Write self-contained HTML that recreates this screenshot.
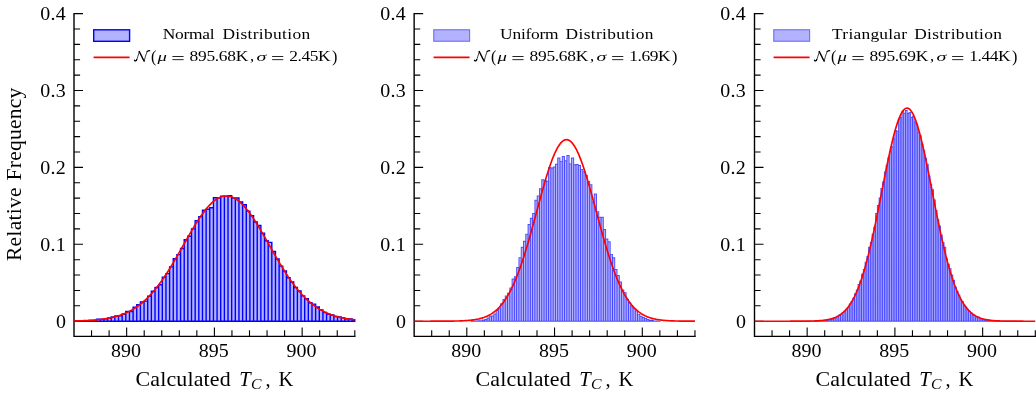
<!DOCTYPE html>
<html><head><meta charset="utf-8"><title>Tc distributions</title>
<style>html,body{margin:0;padding:0;background:#fff;}body{width:1036px;height:397px;overflow:hidden;}svg{display:block;will-change:transform;}text{font-family:"Liberation Serif", serif;fill:#000;}</style></head><body>
<svg width="1036" height="397" viewBox="0 0 1036 397">
<rect x="0" y="0" width="1036" height="397" fill="#ffffff"/>
<g>
<clipPath id="cp0"><rect x="74" y="11.6" width="281.4" height="324.8"/></clipPath>
<path d="M74 13.6V336.4H354.8" fill="none" stroke="#000" stroke-width="1.4" stroke-linecap="square"/>
<path d="M74 321.2H83M74 305.82H80.1M74 290.44H80.1M74 275.06H80.1M74 259.68H80.1M74 244.3H83M74 228.92H80.1M74 213.54H80.1M74 198.16H80.1M74 182.78H80.1M74 167.4H83M74 152.02H80.1M74 136.64H80.1M74 121.26H80.1M74 105.88H80.1M74 90.5H83M74 75.12H80.1M74 59.74H80.1M74 44.36H80.1M74 28.98H80.1M74 13.6H83M91.55 336.4V330.3M109.1 336.4V330.3M126.65 336.4V327.4M144.2 336.4V330.3M161.75 336.4V330.3M179.3 336.4V330.3M196.85 336.4V330.3M214.4 336.4V327.4M231.95 336.4V330.3M249.5 336.4V330.3M267.05 336.4V330.3M284.6 336.4V330.3M302.15 336.4V327.4M319.7 336.4V330.3M337.25 336.4V330.3M354.8 336.4V330.3" fill="none" stroke="#000" stroke-width="1.1"/>
<g clip-path="url(#cp0)">
<path d="M71.05 321.2V320.95H74.7V321.2ZM74.7 321.2V320.89H78.35V321.2ZM78.35 321.2V320.92H82V321.2ZM82 321.2V320.77H85.65V321.2ZM85.65 321.2V320.68H89.3V321.2ZM89.3 321.2V320.34H92.95V321.2ZM92.95 321.2V320.46H96.6V321.2ZM96.6 321.2V319.29H100.25V321.2ZM100.25 321.2V319.23H103.91V321.2ZM103.91 321.2V318.83H107.56V321.2ZM107.56 321.2V318H111.21V321.2ZM111.21 321.2V316.98H114.86V321.2ZM114.86 321.2V315.84H118.51V321.2ZM118.51 321.2V315.75H122.16V321.2ZM122.16 321.2V314.05H125.81V321.2ZM125.81 321.2V311.34H129.46V321.2ZM129.46 321.2V311.56H133.11V321.2ZM133.11 321.2V307.18H136.76V321.2ZM136.76 321.2V304.62H140.41V321.2ZM140.41 321.2V301.85H144.06V321.2ZM144.06 321.2V301.08H147.71V321.2ZM147.71 321.2V296.31H151.36V321.2ZM151.36 321.2V291.19H155.01V321.2ZM155.01 321.2V287.46H158.66V321.2ZM158.66 321.2V284.75H162.31V321.2ZM162.31 321.2V277.08H165.96V321.2ZM165.96 321.2V273.6H169.61V321.2ZM169.61 321.2V266.91H173.26V321.2ZM173.26 321.2V258.78H176.91V321.2ZM176.91 321.2V254.62H180.56V321.2ZM180.56 321.2V248.52H184.21V321.2ZM184.21 321.2V239.77H187.86V321.2ZM187.86 321.2V236.32H191.51V321.2ZM191.51 321.2V228.83H195.17V321.2ZM195.17 321.2V220.61H198.82V321.2ZM198.82 321.2V216.6H202.47V321.2ZM202.47 321.2V210.29H206.12V321.2ZM206.12 321.2V209.24H209.77V321.2ZM209.77 321.2V207.7H213.42V321.2ZM213.42 321.2V197.78H217.07V321.2ZM217.07 321.2V198.09H220.72V321.2ZM220.72 321.2V196.21H224.37V321.2ZM224.37 321.2V196.36H228.02V321.2ZM228.02 321.2V195.62H231.67V321.2ZM231.67 321.2V198.15H235.32V321.2ZM235.32 321.2V198.06H238.97V321.2ZM238.97 321.2V201.97H242.62V321.2ZM242.62 321.2V204.77H246.27V321.2ZM246.27 321.2V211.15H249.92V321.2ZM249.92 321.2V215.62H253.57V321.2ZM253.57 321.2V221.99H257.22V321.2ZM257.22 321.2V225.57H260.87V321.2ZM260.87 321.2V233.12H264.52V321.2ZM264.52 321.2V240.73H268.17V321.2ZM268.17 321.2V242.42H271.82V321.2ZM271.82 321.2V251.51H275.47V321.2ZM275.47 321.2V259H279.12V321.2ZM279.12 321.2V266.14H282.77V321.2ZM282.77 321.2V271.04H286.43V321.2ZM286.43 321.2V277.82H290.08V321.2ZM290.08 321.2V282.04H293.73V321.2ZM293.73 321.2V287.46H297.38V321.2ZM297.38 321.2V291.01H301.03V321.2ZM301.03 321.2V295.84H304.68V321.2ZM304.68 321.2V298.68H308.33V321.2ZM308.33 321.2V302.68H311.98V321.2ZM311.98 321.2V304.16H315.63V321.2ZM315.63 321.2V307.06H319.28V321.2ZM319.28 321.2V309.86H322.93V321.2ZM322.93 321.2V312.45H326.58V321.2ZM326.58 321.2V314.18H330.23V321.2ZM330.23 321.2V315.07H333.88V321.2ZM333.88 321.2V316.52H337.53V321.2ZM337.53 321.2V316.92H341.18V321.2ZM341.18 321.2V317.87H344.83V321.2ZM344.83 321.2V318.8H348.48V321.2ZM348.48 321.2V319.07H352.13V321.2ZM352.13 321.2V319.75H355.78V321.2Z" fill="#0000ff" fill-opacity="0.3" stroke="none"/>
<path d="M71.05 321.2V320.95H74.7V321.2ZM74.7 321.2V320.89H78.35V321.2ZM78.35 321.2V320.92H82V321.2ZM82 321.2V320.77H85.65V321.2ZM85.65 321.2V320.68H89.3V321.2ZM89.3 321.2V320.34H92.95V321.2ZM92.95 321.2V320.46H96.6V321.2ZM96.6 321.2V319.29H100.25V321.2ZM100.25 321.2V319.23H103.91V321.2ZM103.91 321.2V318.83H107.56V321.2ZM107.56 321.2V318H111.21V321.2ZM111.21 321.2V316.98H114.86V321.2ZM114.86 321.2V315.84H118.51V321.2ZM118.51 321.2V315.75H122.16V321.2ZM122.16 321.2V314.05H125.81V321.2ZM125.81 321.2V311.34H129.46V321.2ZM129.46 321.2V311.56H133.11V321.2ZM133.11 321.2V307.18H136.76V321.2ZM136.76 321.2V304.62H140.41V321.2ZM140.41 321.2V301.85H144.06V321.2ZM144.06 321.2V301.08H147.71V321.2ZM147.71 321.2V296.31H151.36V321.2ZM151.36 321.2V291.19H155.01V321.2ZM155.01 321.2V287.46H158.66V321.2ZM158.66 321.2V284.75H162.31V321.2ZM162.31 321.2V277.08H165.96V321.2ZM165.96 321.2V273.6H169.61V321.2ZM169.61 321.2V266.91H173.26V321.2ZM173.26 321.2V258.78H176.91V321.2ZM176.91 321.2V254.62H180.56V321.2ZM180.56 321.2V248.52H184.21V321.2ZM184.21 321.2V239.77H187.86V321.2ZM187.86 321.2V236.32H191.51V321.2ZM191.51 321.2V228.83H195.17V321.2ZM195.17 321.2V220.61H198.82V321.2ZM198.82 321.2V216.6H202.47V321.2ZM202.47 321.2V210.29H206.12V321.2ZM206.12 321.2V209.24H209.77V321.2ZM209.77 321.2V207.7H213.42V321.2ZM213.42 321.2V197.78H217.07V321.2ZM217.07 321.2V198.09H220.72V321.2ZM220.72 321.2V196.21H224.37V321.2ZM224.37 321.2V196.36H228.02V321.2ZM228.02 321.2V195.62H231.67V321.2ZM231.67 321.2V198.15H235.32V321.2ZM235.32 321.2V198.06H238.97V321.2ZM238.97 321.2V201.97H242.62V321.2ZM242.62 321.2V204.77H246.27V321.2ZM246.27 321.2V211.15H249.92V321.2ZM249.92 321.2V215.62H253.57V321.2ZM253.57 321.2V221.99H257.22V321.2ZM257.22 321.2V225.57H260.87V321.2ZM260.87 321.2V233.12H264.52V321.2ZM264.52 321.2V240.73H268.17V321.2ZM268.17 321.2V242.42H271.82V321.2ZM271.82 321.2V251.51H275.47V321.2ZM275.47 321.2V259H279.12V321.2ZM279.12 321.2V266.14H282.77V321.2ZM282.77 321.2V271.04H286.43V321.2ZM286.43 321.2V277.82H290.08V321.2ZM290.08 321.2V282.04H293.73V321.2ZM293.73 321.2V287.46H297.38V321.2ZM297.38 321.2V291.01H301.03V321.2ZM301.03 321.2V295.84H304.68V321.2ZM304.68 321.2V298.68H308.33V321.2ZM308.33 321.2V302.68H311.98V321.2ZM311.98 321.2V304.16H315.63V321.2ZM315.63 321.2V307.06H319.28V321.2ZM319.28 321.2V309.86H322.93V321.2ZM322.93 321.2V312.45H326.58V321.2ZM326.58 321.2V314.18H330.23V321.2ZM330.23 321.2V315.07H333.88V321.2ZM333.88 321.2V316.52H337.53V321.2ZM337.53 321.2V316.92H341.18V321.2ZM341.18 321.2V317.87H344.83V321.2ZM344.83 321.2V318.8H348.48V321.2ZM348.48 321.2V319.07H352.13V321.2ZM352.13 321.2V319.75H355.78V321.2Z" fill="none" stroke="#0000ff" stroke-opacity="1.0" stroke-width="1.4" stroke-linejoin="miter"/>
<polyline points="74,320.96 74.88,320.95 75.76,320.93 76.63,320.91 77.51,320.89 78.39,320.86 79.26,320.84 80.14,320.81 81.02,320.79 81.9,320.76 82.78,320.72 83.65,320.69 84.53,320.66 85.41,320.62 86.29,320.58 87.16,320.54 88.04,320.49 88.92,320.44 89.79,320.39 90.67,320.34 91.55,320.28 92.43,320.22 93.31,320.15 94.18,320.09 95.06,320.02 95.94,319.94 96.81,319.86 97.69,319.77 98.57,319.69 99.45,319.59 100.33,319.49 101.2,319.39 102.08,319.28 102.96,319.16 103.84,319.04 104.71,318.91 105.59,318.77 106.47,318.63 107.34,318.48 108.22,318.32 109.1,318.16 109.98,317.98 110.86,317.8 111.73,317.61 112.61,317.41 113.49,317.2 114.36,316.98 115.24,316.75 116.12,316.51 117,316.26 117.88,316 118.75,315.73 119.63,315.44 120.51,315.14 121.39,314.83 122.26,314.51 123.14,314.17 124.02,313.82 124.89,313.45 125.77,313.07 126.65,312.68 127.53,312.27 128.41,311.84 129.28,311.4 130.16,310.94 131.04,310.46 131.91,309.96 132.79,309.45 133.67,308.92 134.55,308.37 135.43,307.8 136.3,307.22 137.18,306.61 138.06,305.98 138.94,305.33 139.81,304.66 140.69,303.98 141.57,303.26 142.44,302.53 143.32,301.78 144.2,301 145.08,300.2 145.96,299.38 146.83,298.54 147.71,297.67 148.59,296.78 149.46,295.87 150.34,294.93 151.22,293.97 152.1,292.99 152.98,291.99 153.85,290.96 154.73,289.91 155.61,288.83 156.49,287.73 157.36,286.61 158.24,285.47 159.12,284.3 159.99,283.11 160.87,281.9 161.75,280.67 162.63,279.42 163.51,278.15 164.38,276.85 165.26,275.54 166.14,274.2 167.01,272.85 167.89,271.48 168.77,270.09 169.65,268.69 170.53,267.27 171.4,265.83 172.28,264.38 173.16,262.92 174.04,261.44 174.91,259.95 175.79,258.45 176.67,256.94 177.54,255.42 178.42,253.89 179.3,252.36 180.18,250.82 181.06,249.28 181.93,247.73 182.81,246.18 183.69,244.63 184.56,243.08 185.44,241.53 186.32,239.99 187.2,238.45 188.07,236.92 188.95,235.39 189.83,233.87 190.71,232.36 191.59,230.87 192.46,229.38 193.34,227.92 194.22,226.46 195.09,225.03 195.97,223.61 196.85,222.22 197.73,220.84 198.61,219.49 199.48,218.16 200.36,216.86 201.24,215.59 202.11,214.35 202.99,213.14 203.87,211.96 204.75,210.81 205.62,209.69 206.5,208.62 207.38,207.57 208.26,206.57 209.14,205.61 210.01,204.69 210.89,203.8 211.77,202.96 212.64,202.17 213.52,201.42 214.4,200.71 215.28,200.05 216.16,199.44 217.03,198.88 217.91,198.36 218.79,197.89 219.66,197.48 220.54,197.11 221.42,196.8 222.3,196.53 223.18,196.32 224.05,196.16 224.93,196.05 225.81,195.99 226.69,195.99 227.56,196.03 228.44,196.13 229.32,196.28 230.19,196.48 231.07,196.74 231.95,197.04 232.83,197.4 233.71,197.81 234.58,198.26 235.46,198.77 236.34,199.32 237.21,199.93 238.09,200.58 238.97,201.27 239.85,202.02 240.72,202.8 241.6,203.63 242.48,204.51 243.36,205.42 244.24,206.38 245.11,207.37 245.99,208.4 246.87,209.48 247.74,210.58 248.62,211.72 249.5,212.9 250.38,214.1 251.26,215.34 252.13,216.61 253.01,217.9 253.89,219.22 254.76,220.57 255.64,221.94 256.52,223.33 257.4,224.74 258.27,226.17 259.15,227.62 260.03,229.09 260.91,230.57 261.79,232.06 262.66,233.57 263.54,235.08 264.42,236.61 265.29,238.14 266.17,239.68 267.05,241.22 267.93,242.77 268.81,244.32 269.68,245.87 270.56,247.42 271.44,248.97 272.31,250.51 273.19,252.05 274.07,253.59 274.95,255.12 275.83,256.64 276.7,258.15 277.58,259.65 278.46,261.14 279.34,262.62 280.21,264.09 281.09,265.54 281.97,266.98 282.84,268.41 283.72,269.81 284.6,271.21 285.48,272.58 286.36,273.93 287.23,275.27 288.11,276.59 288.99,277.89 289.86,279.17 290.74,280.42 291.62,281.66 292.5,282.87 293.38,284.07 294.25,285.24 295.13,286.38 296.01,287.51 296.89,288.61 297.76,289.69 298.64,290.75 299.52,291.78 300.39,292.79 301.27,293.78 302.15,294.74 303.03,295.68 303.91,296.6 304.78,297.5 305.66,298.37 306.54,299.21 307.41,300.04 308.29,300.84 309.17,301.62 310.05,302.38 310.93,303.12 311.8,303.83 312.68,304.53 313.56,305.2 314.44,305.85 315.31,306.48 316.19,307.1 317.07,307.69 317.94,308.26 318.82,308.81 319.7,309.35 320.58,309.86 321.46,310.36 322.33,310.84 323.21,311.31 324.09,311.75 324.96,312.18 325.84,312.6 326.72,313 327.6,313.38 328.48,313.75 329.35,314.1 330.23,314.44 331.11,314.77 331.99,315.08 332.86,315.38 333.74,315.67 334.62,315.95 335.49,316.21 336.37,316.46 337.25,316.71 338.13,316.94 339.01,317.16 339.88,317.37 340.76,317.57 341.64,317.76 342.51,317.95 343.39,318.12 344.27,318.29 345.15,318.45 346.03,318.6 346.9,318.74 347.78,318.88 348.66,319.01 349.54,319.14 350.41,319.25 351.29,319.36 352.17,319.47 353.04,319.57 353.92,319.67 354.8,319.76" fill="none" stroke="#ff0000" stroke-width="1.65" stroke-linejoin="round"/>
</g>
<text transform="translate(56.1 327.7) scale(1.05 1)" font-size="19" textLength="9.14" lengthAdjust="spacing">0</text>
<text transform="translate(40.3 250.8) scale(1.05 1)" font-size="19" textLength="24.19" lengthAdjust="spacing">0.1</text>
<text transform="translate(40.3 173.9) scale(1.05 1)" font-size="19" textLength="24.19" lengthAdjust="spacing">0.2</text>
<text transform="translate(40.3 97) scale(1.05 1)" font-size="19" textLength="24.19" lengthAdjust="spacing">0.3</text>
<text transform="translate(40.3 20.1) scale(1.05 1)" font-size="19" textLength="24.19" lengthAdjust="spacing">0.4</text>
<text transform="translate(111.05 356.8) scale(1.05 1)" font-size="19" textLength="28.57" lengthAdjust="spacing">890</text>
<text transform="translate(198.8 356.8) scale(1.05 1)" font-size="19" textLength="28.57" lengthAdjust="spacing">895</text>
<text transform="translate(286.55 356.8) scale(1.05 1)" font-size="19" textLength="28.57" lengthAdjust="spacing">900</text>
<text transform="translate(135.6 385.6) scale(1.07 1)" font-size="20.5" textLength="88.79" lengthAdjust="spacing">Calculated</text>
<text transform="translate(239.2 385.6) scale(1.0 1)" font-size="20.5" textLength="12.5" lengthAdjust="spacing"><tspan font-style="italic">T</tspan></text>
<text transform="translate(250.9 388.8) scale(1.05 1)" font-size="15" textLength="10.48" lengthAdjust="spacing"><tspan font-style="italic">C</tspan></text>
<text transform="translate(265.6 385.6) scale(1.0 1)" font-size="20.5">,</text>
<text transform="translate(278.4 385.6) scale(1.0 1)" font-size="20.5" textLength="15" lengthAdjust="spacing">K</text>
<rect x="93.7" y="29.8" width="35.9" height="11.5" fill="#0000ff" fill-opacity="0.3" stroke="#0000ff" stroke-width="1.4"/>
<path d="M93.6 57.4H129.6" stroke="#ff0000" stroke-width="1.6" fill="none"/>
<text transform="translate(162.7 38.9) scale(1.16 1)" font-size="15" textLength="44.83" lengthAdjust="spacing">Normal</text>
<text transform="translate(222.4 38.9) scale(1.16 1)" font-size="15" textLength="75.69" lengthAdjust="spacing">Distribution</text>
<g transform="translate(133.9 61.2)" fill="none" stroke="#000" stroke-linecap="round" stroke-linejoin="round"><path d="M0.6 -0.9C1.2 0.1 2.3 0 2.9 -1.6" stroke-width="1.3"/><path d="M2.6 -1.2C3.6 -3.2 4.6 -6.6 5.3 -9.5" stroke-width="0.75"/><path d="M5.4 -9.6C6.8 -6.8 8.6 -3 10.2 -0.2" stroke-width="1.5"/><path d="M10.3 -0.1C11 -3.2 12 -7 13.2 -9.6" stroke-width="0.75"/><path d="M13.2 -9.8C13.8 -10.2 14.8 -10.5 15.8 -10.5" stroke-width="1.2"/></g>
<text transform="translate(151 62.1) scale(0.95 1)" font-size="17">(</text>
<text transform="translate(157.5 61.2) scale(1.5 1)" font-size="12.5" textLength="6" lengthAdjust="spacing"><tspan font-style="italic">μ</tspan></text>
<path d="M172.4 56.5h11.2M172.4 59.65h11.2" stroke="#000" stroke-width="0.85" fill="none"/>
<text transform="translate(189.6 61.2) scale(1.16 1)" font-size="15" textLength="50.52" lengthAdjust="spacing">895.68K</text>
<text transform="translate(250 61.2) scale(1.1 1)" font-size="15">,</text>
<text transform="translate(256.5 61.2) scale(1.6 1)" font-size="12.5" textLength="5.62" lengthAdjust="spacing"><tspan font-style="italic">σ</tspan></text>
<path d="M272.1 56.5h11.2M272.1 59.65h11.2" stroke="#000" stroke-width="0.85" fill="none"/>
<text transform="translate(289.3 61.2) scale(1.16 1)" font-size="15" textLength="35.52" lengthAdjust="spacing">2.45K</text>
<text transform="translate(331.9 62.1) scale(0.95 1)" font-size="17">)</text>
</g>
<g>
<clipPath id="cp1"><rect x="414.15" y="11.6" width="281.4" height="324.8"/></clipPath>
<path d="M414.15 13.6V336.4H694.95" fill="none" stroke="#000" stroke-width="1.4" stroke-linecap="square"/>
<path d="M414.15 321.2H423.15M414.15 305.82H420.25M414.15 290.44H420.25M414.15 275.06H420.25M414.15 259.68H420.25M414.15 244.3H423.15M414.15 228.92H420.25M414.15 213.54H420.25M414.15 198.16H420.25M414.15 182.78H420.25M414.15 167.4H423.15M414.15 152.02H420.25M414.15 136.64H420.25M414.15 121.26H420.25M414.15 105.88H420.25M414.15 90.5H423.15M414.15 75.12H420.25M414.15 59.74H420.25M414.15 44.36H420.25M414.15 28.98H420.25M414.15 13.6H423.15M431.7 336.4V330.3M449.25 336.4V330.3M466.8 336.4V327.4M484.35 336.4V330.3M501.9 336.4V330.3M519.45 336.4V330.3M537 336.4V330.3M554.55 336.4V327.4M572.1 336.4V330.3M589.65 336.4V330.3M607.2 336.4V330.3M624.75 336.4V330.3M642.3 336.4V327.4M659.85 336.4V330.3M677.4 336.4V330.3M694.95 336.4V330.3" fill="none" stroke="#000" stroke-width="1.1"/>
<g clip-path="url(#cp1)">
<path d="M471.01 321.2V321.07H473.29V321.2ZM473.29 321.2V320.94H475.57V321.2ZM475.57 321.2V320.94H477.86V321.2ZM477.86 321.2V320.61H480.14V321.2ZM480.14 321.2V320.67H482.42V321.2ZM482.42 321.2V320.02H484.7V321.2ZM484.7 321.2V319.56H486.98V321.2ZM486.98 321.2V318.05H489.26V321.2ZM489.26 321.2V316.07H491.55V321.2ZM491.55 321.2V316.01H493.83V321.2ZM493.83 321.2V314.04H496.11V321.2ZM496.11 321.2V310.55H498.39V321.2ZM498.39 321.2V308.78H500.67V321.2ZM500.67 321.2V303.65H502.95V321.2ZM502.95 321.2V299.58H505.23V321.2ZM505.23 321.2V295.9H507.52V321.2ZM507.52 321.2V293.2H509.8V321.2ZM509.8 321.2V287.88H512.08V321.2ZM512.08 321.2V279H514.36V321.2ZM514.36 321.2V276.7H516.64V321.2ZM516.64 321.2V267.44H518.92V321.2ZM518.92 321.2V257.64H521.2V321.2ZM521.2 321.2V247.32H523.49V321.2ZM523.49 321.2V241.34H525.77V321.2ZM525.77 321.2V234.11H528.05V321.2ZM528.05 321.2V224.52H530.33V321.2ZM530.33 321.2V218.21H532.61V321.2ZM532.61 321.2V213.47H534.89V321.2ZM534.89 321.2V200.2H537.18V321.2ZM537.18 321.2V195.86H539.46V321.2ZM539.46 321.2V188.83H541.74V321.2ZM541.74 321.2V179.82H544.02V321.2ZM544.02 321.2V180.48H546.3V321.2ZM546.3 321.2V181.27H548.58V321.2ZM548.58 321.2V167.53H550.86V321.2ZM550.86 321.2V167.99H553.15V321.2ZM553.15 321.2V167.07H555.43V321.2ZM555.43 321.2V164.25H557.71V321.2ZM557.71 321.2V157.94H559.99V321.2ZM559.99 321.2V161.35H562.27V321.2ZM562.27 321.2V156.42H564.55V321.2ZM564.55 321.2V160.83H566.83V321.2ZM566.83 321.2V155.57H569.12V321.2ZM569.12 321.2V163.85H571.4V321.2ZM571.4 321.2V158.07H573.68V321.2ZM573.68 321.2V164.71H575.96V321.2ZM575.96 321.2V164.44H578.24V321.2ZM578.24 321.2V165.43H580.52V321.2ZM580.52 321.2V169.37H582.81V321.2ZM582.81 321.2V171.8H585.09V321.2ZM585.09 321.2V175.48H587.37V321.2ZM587.37 321.2V181.4H589.65V321.2ZM589.65 321.2V184.75H591.93V321.2ZM591.93 321.2V202.04H594.21V321.2ZM594.21 321.2V194.02H596.49V321.2ZM596.49 321.2V211.77H598.78V321.2ZM598.78 321.2V217.15H601.06V321.2ZM601.06 321.2V217.22H603.34V321.2ZM603.34 321.2V229.58H605.62V321.2ZM605.62 321.2V239.04H607.9V321.2ZM607.9 321.2V241.8H610.18V321.2ZM610.18 321.2V254.36H612.46V321.2ZM612.46 321.2V257.71H614.75V321.2ZM614.75 321.2V269.54H617.03V321.2ZM617.03 321.2V275.52H619.31V321.2ZM619.31 321.2V282.09H621.59V321.2ZM621.59 321.2V289.91H623.87V321.2ZM623.87 321.2V292.61H626.15V321.2ZM626.15 321.2V299.18H628.44V321.2ZM628.44 321.2V302.8H630.72V321.2ZM630.72 321.2V306.67H633V321.2ZM633 321.2V308.58H635.28V321.2ZM635.28 321.2V310.88H637.56V321.2ZM637.56 321.2V314.36H639.84V321.2ZM639.84 321.2V316.27H642.12V321.2ZM642.12 321.2V317.45H644.41V321.2ZM644.41 321.2V318.51H646.69V321.2ZM646.69 321.2V319.56H648.97V321.2ZM648.97 321.2V320.28H651.25V321.2ZM651.25 321.2V320.28H653.53V321.2ZM653.53 321.2V321H655.81V321.2ZM655.81 321.2V320.94H658.09V321.2ZM658.09 321.2V321.13H660.38V321.2Z" fill="#0000ff" fill-opacity="0.3" stroke="none"/>
<path d="M470.54 321.68V320.59H471.49V321.68ZM470.54 320.59H473.77V321.54H470.54ZM472.82 321.68V320.46H473.77V321.68ZM472.82 320.46H476.05V321.41H472.82ZM475.1 321.68V320.46H476.05V321.68ZM475.1 320.46H478.33V321.41H475.1ZM477.38 321.68V320.13H478.33V321.68ZM477.38 320.13H480.61V321.08H477.38ZM479.66 321.68V320.13H480.61V321.68ZM479.66 320.2H482.89V321.15H479.66ZM481.94 321.68V319.54H482.89V321.68ZM481.94 319.54H485.18V320.49H481.94ZM484.23 321.68V319.08H485.18V321.68ZM484.23 319.08H487.46V320.03H484.23ZM486.51 321.68V317.57H487.46V321.68ZM486.51 317.57H489.74V318.52H486.51ZM488.79 321.68V315.6H489.74V321.68ZM488.79 315.6H492.02V316.55H488.79ZM491.07 321.68V315.53H492.02V321.68ZM491.07 315.53H494.3V316.48H491.07ZM493.35 321.68V313.56H494.3V321.68ZM493.35 313.56H496.58V314.51H493.35ZM495.63 321.68V310.08H496.58V321.68ZM495.63 310.08H498.86V311.03H495.63ZM497.91 321.68V308.3H498.86V321.68ZM497.91 308.3H501.15V309.25H497.91ZM500.2 321.68V303.18H501.15V321.68ZM500.2 303.18H503.43V304.13H500.2ZM502.48 321.68V299.1H503.43V321.68ZM502.48 299.1H505.71V300.05H502.48ZM504.76 321.68V295.42H505.71V321.68ZM504.76 295.42H507.99V296.37H504.76ZM507.04 321.68V292.73H507.99V321.68ZM507.04 292.73H510.27V293.68H507.04ZM509.32 321.68V287.4H510.27V321.68ZM509.32 287.4H512.55V288.35H509.32ZM511.6 321.68V278.53H512.55V321.68ZM511.6 278.53H514.84V279.48H511.6ZM513.89 321.68V276.23H514.84V321.68ZM513.89 276.23H517.12V277.18H513.89ZM516.17 321.68V266.96H517.12V321.68ZM516.17 266.96H519.4V267.91H516.17ZM518.45 321.68V257.17H519.4V321.68ZM518.45 257.17H521.68V258.12H518.45ZM520.73 321.68V246.85H521.68V321.68ZM520.73 246.85H523.96V247.8H520.73ZM523.01 321.68V240.87H523.96V321.68ZM523.01 240.87H526.24V241.82H523.01ZM525.29 321.68V233.64H526.24V321.68ZM525.29 233.64H528.52V234.59H525.29ZM527.57 321.68V224.04H528.52V321.68ZM527.57 224.04H530.81V224.99H527.57ZM529.86 321.68V217.73H530.81V321.68ZM529.86 217.73H533.09V218.68H529.86ZM532.14 321.68V213H533.09V321.68ZM532.14 213H535.37V213.95H532.14ZM534.42 321.68V199.72H535.37V321.68ZM534.42 199.72H537.65V200.67H534.42ZM536.7 321.68V195.38H537.65V321.68ZM536.7 195.38H539.93V196.33H536.7ZM538.98 321.68V188.35H539.93V321.68ZM538.98 188.35H542.21V189.3H538.98ZM541.26 321.68V179.35H542.21V321.68ZM541.26 179.35H544.49V180.3H541.26ZM543.54 321.68V179.35H544.49V321.68ZM543.54 180H546.78V180.95H543.54ZM545.83 321.68V180H546.78V321.68ZM545.83 180.79H549.06V181.74H545.83ZM548.11 321.68V167.06H549.06V321.68ZM548.11 167.06H551.34V168.01H548.11ZM550.39 321.68V167.06H551.34V321.68ZM550.39 167.52H553.62V168.47H550.39ZM552.67 321.68V166.6H553.62V321.68ZM552.67 166.6H555.9V167.55H552.67ZM554.95 321.68V163.77H555.9V321.68ZM554.95 163.77H558.18V164.72H554.95ZM557.23 321.68V157.46H558.18V321.68ZM557.23 157.46H560.47V158.41H557.23ZM559.52 321.68V157.46H560.47V321.68ZM559.52 160.88H562.75V161.83H559.52ZM561.8 321.68V155.95H562.75V321.68ZM561.8 155.95H565.03V156.9H561.8ZM564.08 321.68V155.95H565.03V321.68ZM564.08 160.35H567.31V161.3H564.08ZM566.36 321.68V155.09H567.31V321.68ZM566.36 155.09H569.59V156.04H566.36ZM568.64 321.68V155.09H569.59V321.68ZM568.64 163.38H571.87V164.33H568.64ZM570.92 321.68V157.59H571.87V321.68ZM570.92 157.59H574.15V158.54H570.92ZM573.2 321.68V157.59H574.15V321.68ZM573.2 164.23H576.44V165.18H573.2ZM575.49 321.68V163.97H576.44V321.68ZM575.49 163.97H578.72V164.92H575.49ZM577.77 321.68V163.97H578.72V321.68ZM577.77 164.95H581V165.9H577.77ZM580.05 321.68V164.95H581V321.68ZM580.05 168.9H583.28V169.85H580.05ZM582.33 321.68V168.9H583.28V321.68ZM582.33 171.33H585.56V172.28H582.33ZM584.61 321.68V171.33H585.56V321.68ZM584.61 175.01H587.84V175.96H584.61ZM586.89 321.68V175.01H587.84V321.68ZM586.89 180.92H590.12V181.87H586.89ZM589.17 321.68V180.92H590.12V321.68ZM589.17 184.28H592.41V185.23H589.17ZM591.46 321.68V184.28H592.41V321.68ZM591.46 201.56H594.69V202.51H591.46ZM593.74 321.68V193.54H594.69V321.68ZM593.74 193.54H596.97V194.49H593.74ZM596.02 321.68V193.54H596.97V321.68ZM596.02 211.29H599.25V212.24H596.02ZM598.3 321.68V211.29H599.25V321.68ZM598.3 216.68H601.53V217.63H598.3ZM600.58 321.68V216.68H601.53V321.68ZM600.58 216.75H603.81V217.7H600.58ZM602.86 321.68V216.75H603.81V321.68ZM602.86 229.1H606.1V230.05H602.86ZM605.15 321.68V229.1H606.1V321.68ZM605.15 238.57H608.38V239.52H605.15ZM607.43 321.68V238.57H608.38V321.68ZM607.43 241.33H610.66V242.28H607.43ZM609.71 321.68V241.33H610.66V321.68ZM609.71 253.88H612.94V254.83H609.71ZM611.99 321.68V253.88H612.94V321.68ZM611.99 257.23H615.22V258.18H611.99ZM614.27 321.68V257.23H615.22V321.68ZM614.27 269.06H617.5V270.01H614.27ZM616.55 321.68V269.06H617.5V321.68ZM616.55 275.05H619.78V276H616.55ZM618.83 321.68V275.05H619.78V321.68ZM618.83 281.62H622.07V282.57H618.83ZM621.12 321.68V281.62H622.07V321.68ZM621.12 289.44H624.35V290.39H621.12ZM623.4 321.68V289.44H624.35V321.68ZM623.4 292.13H626.63V293.08H623.4ZM625.68 321.68V292.13H626.63V321.68ZM625.68 298.71H628.91V299.66H625.68ZM627.96 321.68V298.71H628.91V321.68ZM627.96 302.32H631.19V303.27H627.96ZM630.24 321.68V302.32H631.19V321.68ZM630.24 306.2H633.47V307.15H630.24ZM632.52 321.68V306.2H633.47V321.68ZM632.52 308.11H635.75V309.06H632.52ZM634.8 321.68V308.11H635.75V321.68ZM634.8 310.41H638.04V311.36H634.8ZM637.09 321.68V310.41H638.04V321.68ZM637.09 313.89H640.32V314.84H637.09ZM639.37 321.68V313.89H640.32V321.68ZM639.37 315.8H642.6V316.75H639.37ZM641.65 321.68V315.8H642.6V321.68ZM641.65 316.98H644.88V317.93H641.65ZM643.93 321.68V316.98H644.88V321.68ZM643.93 318.03H647.16V318.98H643.93ZM646.21 321.68V318.03H647.16V321.68ZM646.21 319.08H649.44V320.03H646.21ZM648.49 321.68V319.08H649.44V321.68ZM648.49 319.8H651.73V320.75H648.49ZM650.78 321.68V319.8H651.73V321.68ZM650.78 319.8H654.01V320.75H650.78ZM653.06 321.68V319.8H654.01V321.68ZM653.06 320.53H656.29V321.48H653.06ZM655.34 321.68V320.46H656.29V321.68ZM655.34 320.46H658.57V321.41H655.34ZM657.62 321.68V320.46H658.57V321.68ZM657.62 320.66H660.85V321.61H657.62ZM659.9 321.68V320.66H660.85V321.68ZM470.54 320.72H660.85V321.68H470.54Z" fill="#0000ff" fill-opacity="0.65" fill-rule="nonzero" stroke="none"/>
<polyline points="414.15,321.2 415.03,321.2 415.91,321.2 416.78,321.2 417.66,321.2 418.54,321.2 419.41,321.2 420.29,321.2 421.17,321.2 422.05,321.2 422.92,321.2 423.8,321.2 424.68,321.2 425.56,321.2 426.44,321.2 427.31,321.2 428.19,321.2 429.07,321.2 429.94,321.2 430.82,321.19 431.7,321.19 432.58,321.19 433.46,321.19 434.33,321.19 435.21,321.19 436.09,321.19 436.96,321.19 437.84,321.19 438.72,321.18 439.6,321.18 440.47,321.18 441.35,321.18 442.23,321.17 443.11,321.17 443.99,321.16 444.86,321.16 445.74,321.15 446.62,321.15 447.49,321.14 448.37,321.13 449.25,321.13 450.13,321.12 451.01,321.11 451.88,321.1 452.76,321.08 453.64,321.07 454.51,321.05 455.39,321.04 456.27,321.02 457.15,321 458.02,320.97 458.9,320.95 459.78,320.92 460.66,320.89 461.54,320.85 462.41,320.82 463.29,320.77 464.17,320.73 465.04,320.68 465.92,320.62 466.8,320.56 467.68,320.49 468.56,320.42 469.43,320.34 470.31,320.25 471.19,320.16 472.06,320.06 472.94,319.94 473.82,319.82 474.7,319.69 475.57,319.54 476.45,319.39 477.33,319.22 478.21,319.04 479.09,318.84 479.96,318.62 480.84,318.39 481.72,318.14 482.59,317.87 483.47,317.59 484.35,317.28 485.23,316.94 486.11,316.59 486.98,316.2 487.86,315.79 488.74,315.35 489.61,314.88 490.49,314.38 491.37,313.85 492.25,313.28 493.12,312.68 494,312.04 494.88,311.35 495.76,310.63 496.64,309.86 497.51,309.05 498.39,308.19 499.27,307.28 500.14,306.32 501.02,305.31 501.9,304.24 502.78,303.12 503.66,301.95 504.53,300.71 505.41,299.41 506.29,298.05 507.16,296.63 508.04,295.15 508.92,293.59 509.8,291.98 510.67,290.29 511.55,288.53 512.43,286.71 513.31,284.81 514.19,282.85 515.06,280.81 515.94,278.71 516.82,276.53 517.69,274.28 518.57,271.96 519.45,269.57 520.33,267.12 521.21,264.59 522.08,262 522.96,259.35 523.84,256.63 524.71,253.86 525.59,251.02 526.47,248.13 527.35,245.19 528.23,242.2 529.1,239.16 529.98,236.08 530.86,232.97 531.74,229.81 532.61,226.63 533.49,223.42 534.37,220.2 535.24,216.95 536.12,213.7 537,210.44 537.88,207.19 538.76,203.94 539.63,200.7 540.51,197.49 541.39,194.3 542.26,191.14 543.14,188.01 544.02,184.94 544.9,181.91 545.77,178.94 546.65,176.03 547.53,173.2 548.41,170.44 549.29,167.76 550.16,165.18 551.04,162.68 551.92,160.29 552.79,158.01 553.67,155.84 554.55,153.79 555.43,151.85 556.31,150.05 557.18,148.38 558.06,146.85 558.94,145.45 559.81,144.2 560.69,143.1 561.57,142.14 562.45,141.34 563.33,140.7 564.2,140.21 565.08,139.87 565.96,139.7 566.84,139.68 567.71,139.83 568.59,140.13 569.47,140.59 570.34,141.2 571.22,141.97 572.1,142.89 572.98,143.97 573.86,145.19 574.73,146.56 575.61,148.06 576.49,149.71 577.36,151.48 578.24,153.39 579.12,155.42 580,157.57 580.88,159.83 581.75,162.2 582.63,164.67 583.51,167.24 584.39,169.9 585.26,172.64 586.14,175.46 587.02,178.35 587.89,181.31 588.77,184.33 589.65,187.39 590.53,190.51 591.41,193.66 592.28,196.85 593.16,200.06 594.04,203.29 594.91,206.54 595.79,209.79 596.67,213.05 597.55,216.3 598.42,219.55 599.3,222.78 600.18,225.99 601.06,229.18 601.94,232.34 602.81,235.46 603.69,238.55 604.57,241.6 605.44,244.6 606.32,247.55 607.2,250.45 608.08,253.3 608.96,256.08 609.83,258.81 610.71,261.48 611.59,264.08 612.46,266.62 613.34,269.09 614.22,271.49 615.1,273.82 615.98,276.08 616.85,278.28 617.73,280.4 618.61,282.45 619.49,284.43 620.36,286.34 621.24,288.17 622.12,289.94 622.99,291.64 623.87,293.28 624.75,294.84 625.63,296.34 626.51,297.77 627.38,299.15 628.26,300.45 629.14,301.7 630.01,302.89 630.89,304.02 631.77,305.1 632.65,306.12 633.52,307.09 634.4,308.01 635.28,308.88 636.16,309.7 637.04,310.48 637.91,311.21 638.79,311.9 639.67,312.55 640.54,313.16 641.42,313.74 642.3,314.28 643.18,314.79 644.06,315.26 644.93,315.71 645.81,316.12 646.69,316.51 647.56,316.87 648.44,317.21 649.32,317.53 650.2,317.82 651.08,318.09 651.95,318.34 652.83,318.58 653.71,318.8 654.59,319 655.46,319.18 656.34,319.36 657.22,319.51 658.09,319.66 658.97,319.8 659.85,319.92 660.73,320.03 661.61,320.14 662.48,320.24 663.36,320.32 664.24,320.41 665.11,320.48 665.99,320.55 666.87,320.61 667.75,320.67 668.62,320.72 669.5,320.76 670.38,320.81 671.26,320.85 672.14,320.88 673.01,320.91 673.89,320.94 674.77,320.97 675.64,320.99 676.52,321.01 677.4,321.03 678.28,321.05 679.16,321.07 680.03,321.08 680.91,321.09 681.79,321.11 682.66,321.12 683.54,321.12 684.42,321.13 685.3,321.14 686.17,321.15 687.05,321.15 687.93,321.16 688.81,321.16 689.69,321.17 690.56,321.17 691.44,321.17 692.32,321.18 693.19,321.18 694.07,321.18 694.95,321.18" fill="none" stroke="#ff0000" stroke-width="1.65" stroke-linejoin="round"/>
</g>
<text transform="translate(396.1 327.7) scale(1.05 1)" font-size="19" textLength="9.14" lengthAdjust="spacing">0</text>
<text transform="translate(380.3 250.8) scale(1.05 1)" font-size="19" textLength="24.19" lengthAdjust="spacing">0.1</text>
<text transform="translate(380.3 173.9) scale(1.05 1)" font-size="19" textLength="24.19" lengthAdjust="spacing">0.2</text>
<text transform="translate(380.3 97) scale(1.05 1)" font-size="19" textLength="24.19" lengthAdjust="spacing">0.3</text>
<text transform="translate(380.3 20.1) scale(1.05 1)" font-size="19" textLength="24.19" lengthAdjust="spacing">0.4</text>
<text transform="translate(451.2 356.8) scale(1.05 1)" font-size="19" textLength="28.57" lengthAdjust="spacing">890</text>
<text transform="translate(538.95 356.8) scale(1.05 1)" font-size="19" textLength="28.57" lengthAdjust="spacing">895</text>
<text transform="translate(626.7 356.8) scale(1.05 1)" font-size="19" textLength="28.57" lengthAdjust="spacing">900</text>
<text transform="translate(475.6 385.6) scale(1.07 1)" font-size="20.5" textLength="88.79" lengthAdjust="spacing">Calculated</text>
<text transform="translate(579.2 385.6) scale(1.0 1)" font-size="20.5" textLength="12.5" lengthAdjust="spacing"><tspan font-style="italic">T</tspan></text>
<text transform="translate(590.9 388.8) scale(1.05 1)" font-size="15" textLength="10.48" lengthAdjust="spacing"><tspan font-style="italic">C</tspan></text>
<text transform="translate(605.6 385.6) scale(1.0 1)" font-size="20.5">,</text>
<text transform="translate(618.4 385.6) scale(1.0 1)" font-size="20.5" textLength="15" lengthAdjust="spacing">K</text>
<rect x="433.7" y="29.7" width="35.9" height="11.6" fill="#0000ff" fill-opacity="0.3" stroke="#0000ff" stroke-opacity="0.45" stroke-width="1.2"/>
<path d="M433.6 57.4H469.6" stroke="#ff0000" stroke-width="1.6" fill="none"/>
<text transform="translate(500.1 38.9) scale(1.16 1)" font-size="15" textLength="50.43" lengthAdjust="spacing">Uniform</text>
<text transform="translate(565.6 38.9) scale(1.16 1)" font-size="15" textLength="75.69" lengthAdjust="spacing">Distribution</text>
<g transform="translate(473.9 61.2)" fill="none" stroke="#000" stroke-linecap="round" stroke-linejoin="round"><path d="M0.6 -0.9C1.2 0.1 2.3 0 2.9 -1.6" stroke-width="1.3"/><path d="M2.6 -1.2C3.6 -3.2 4.6 -6.6 5.3 -9.5" stroke-width="0.75"/><path d="M5.4 -9.6C6.8 -6.8 8.6 -3 10.2 -0.2" stroke-width="1.5"/><path d="M10.3 -0.1C11 -3.2 12 -7 13.2 -9.6" stroke-width="0.75"/><path d="M13.2 -9.8C13.8 -10.2 14.8 -10.5 15.8 -10.5" stroke-width="1.2"/></g>
<text transform="translate(491 62.1) scale(0.95 1)" font-size="17">(</text>
<text transform="translate(497.5 61.2) scale(1.5 1)" font-size="12.5" textLength="6" lengthAdjust="spacing"><tspan font-style="italic">μ</tspan></text>
<path d="M512.4 56.5h11.2M512.4 59.65h11.2" stroke="#000" stroke-width="0.85" fill="none"/>
<text transform="translate(529.6 61.2) scale(1.16 1)" font-size="15" textLength="50.52" lengthAdjust="spacing">895.68K</text>
<text transform="translate(590 61.2) scale(1.1 1)" font-size="15">,</text>
<text transform="translate(596.5 61.2) scale(1.6 1)" font-size="12.5" textLength="5.62" lengthAdjust="spacing"><tspan font-style="italic">σ</tspan></text>
<path d="M612.1 56.5h11.2M612.1 59.65h11.2" stroke="#000" stroke-width="0.85" fill="none"/>
<text transform="translate(629.3 61.2) scale(1.16 1)" font-size="15" textLength="35.52" lengthAdjust="spacing">1.69K</text>
<text transform="translate(671.9 62.1) scale(0.95 1)" font-size="17">)</text>
</g>
<g>
<clipPath id="cp2"><rect x="754.5" y="11.6" width="281.4" height="324.8"/></clipPath>
<path d="M754.5 13.6V336.4H1035.3" fill="none" stroke="#000" stroke-width="1.4" stroke-linecap="square"/>
<path d="M754.5 321.2H763.5M754.5 305.82H760.6M754.5 290.44H760.6M754.5 275.06H760.6M754.5 259.68H760.6M754.5 244.3H763.5M754.5 228.92H760.6M754.5 213.54H760.6M754.5 198.16H760.6M754.5 182.78H760.6M754.5 167.4H763.5M754.5 152.02H760.6M754.5 136.64H760.6M754.5 121.26H760.6M754.5 105.88H760.6M754.5 90.5H763.5M754.5 75.12H760.6M754.5 59.74H760.6M754.5 44.36H760.6M754.5 28.98H760.6M754.5 13.6H763.5M772.05 336.4V330.3M789.6 336.4V330.3M807.15 336.4V327.4M824.7 336.4V330.3M842.25 336.4V330.3M859.8 336.4V330.3M877.35 336.4V330.3M894.9 336.4V327.4M912.45 336.4V330.3M930 336.4V330.3M947.55 336.4V330.3M965.1 336.4V330.3M982.65 336.4V327.4M1000.2 336.4V330.3M1017.75 336.4V330.3M1035.3 336.4V330.3" fill="none" stroke="#000" stroke-width="1.1"/>
<g clip-path="url(#cp2)">
<path d="M807.15 321.2V321.17H808.91V321.2ZM808.91 321.2V321.17H810.66V321.2ZM810.66 321.2V321.15H812.42V321.2ZM812.42 321.2V321.1H814.17V321.2ZM814.17 321.2V321.15H815.93V321.2ZM815.93 321.2V321.05H817.68V321.2ZM817.68 321.2V320.97H819.44V321.2ZM819.44 321.2V320.58H821.19V321.2ZM821.19 321.2V320.82H822.95V321.2ZM822.95 321.2V320.46H824.7V321.2ZM824.7 321.2V320.2H826.46V321.2ZM826.46 321.2V320.1H828.21V321.2ZM828.21 321.2V319.48H829.97V321.2ZM829.97 321.2V319.12H831.72V321.2ZM831.72 321.2V319.07H833.48V321.2ZM833.48 321.2V318.41H835.23V321.2ZM835.23 321.2V317.51H836.99V321.2ZM836.99 321.2V316.2H838.74V321.2ZM838.74 321.2V315H840.5V321.2ZM840.5 321.2V314.66H842.25V321.2ZM842.25 321.2V312.43H844.01V321.2ZM844.01 321.2V311.13H845.76V321.2ZM845.76 321.2V309.64H847.52V321.2ZM847.52 321.2V307.49H849.27V321.2ZM849.27 321.2V303.87H851.03V321.2ZM851.03 321.2V301.39H852.78V321.2ZM852.78 321.2V298.08H854.54V321.2ZM854.54 321.2V293.72H856.29V321.2ZM856.29 321.2V289.95H858.05V321.2ZM858.05 321.2V284.52H859.8V321.2ZM859.8 321.2V280.93H861.56V321.2ZM861.56 321.2V274.21H863.31V321.2ZM863.31 321.2V269.47H865.07V321.2ZM865.07 321.2V262.12H866.82V321.2ZM866.82 321.2V256.55H868.58V321.2ZM868.58 321.2V247.2H870.33V321.2ZM870.33 321.2V242.53H872.09V321.2ZM872.09 321.2V234.28H873.84V321.2ZM873.84 321.2V227.2H875.6V321.2ZM875.6 321.2V213.33H877.35V321.2ZM877.35 321.2V205.44H879.11V321.2ZM879.11 321.2V197.93H880.86V321.2ZM880.86 321.2V188.34H882.62V321.2ZM882.62 321.2V181.86H884.37V321.2ZM884.37 321.2V171.83H886.13V321.2ZM886.13 321.2V165.12H887.88V321.2ZM887.88 321.2V157.81H889.64V321.2ZM889.64 321.2V151.66H891.39V321.2ZM891.39 321.2V146.69H893.15V321.2ZM893.15 321.2V138.38H894.9V321.2ZM894.9 321.2V130.36H896.66V321.2ZM896.66 321.2V131.23H898.41V321.2ZM898.41 321.2V119.06H900.17V321.2ZM900.17 321.2V117.57H901.92V321.2ZM901.92 321.2V111.21H903.68V321.2ZM903.68 321.2V113.31H905.43V321.2ZM905.43 321.2V110.37H907.19V321.2ZM907.19 321.2V113.49H908.94V321.2ZM908.94 321.2V112.42H910.7V321.2ZM910.7 321.2V117.44H912.45V321.2ZM912.45 321.2V116.16H914.21V321.2ZM914.21 321.2V122.08H915.96V321.2ZM915.96 321.2V124.26H917.72V321.2ZM917.72 321.2V132.44H919.47V321.2ZM919.47 321.2V135.64H921.23V321.2ZM921.23 321.2V144.23H922.98V321.2ZM922.98 321.2V150.41H924.74V321.2ZM924.74 321.2V158.1H926.49V321.2ZM926.49 321.2V164.14H928.25V321.2ZM928.25 321.2V175.86H930V321.2ZM930 321.2V184.16H931.76V321.2ZM931.76 321.2V189.62H933.51V321.2ZM933.51 321.2V199.85H935.27V321.2ZM935.27 321.2V210.39H937.02V321.2ZM937.02 321.2V219.82H938.78V321.2ZM938.78 321.2V226.02H940.53V321.2ZM940.53 321.2V234.97H942.29V321.2ZM942.29 321.2V242.51H944.04V321.2ZM944.04 321.2V247.12H945.8V321.2ZM945.8 321.2V258.81H947.55V321.2ZM947.55 321.2V264.09H949.31V321.2ZM949.31 321.2V268.6H951.06V321.2ZM951.06 321.2V275.03H952.82V321.2ZM952.82 321.2V280.21H954.57V321.2ZM954.57 321.2V286.9H956.33V321.2ZM956.33 321.2V291.23H958.08V321.2ZM958.08 321.2V295H959.84V321.2ZM959.84 321.2V299.87H961.59V321.2ZM961.59 321.2V301.54H963.35V321.2ZM963.35 321.2V305.28H965.1V321.2ZM965.1 321.2V306.87H966.86V321.2ZM966.86 321.2V309.15H968.61V321.2ZM968.61 321.2V311.25H970.37V321.2ZM970.37 321.2V313.07H972.12V321.2ZM972.12 321.2V315.12H973.88V321.2ZM973.88 321.2V315.18H975.63V321.2ZM975.63 321.2V316.94H977.39V321.2ZM977.39 321.2V317.02H979.14V321.2ZM979.14 321.2V318.28H980.9V321.2ZM980.9 321.2V319.07H982.65V321.2ZM982.65 321.2V319.82H984.41V321.2ZM984.41 321.2V319.74H986.16V321.2ZM986.16 321.2V320.46H987.92V321.2ZM987.92 321.2V320.35H989.67V321.2ZM989.67 321.2V320.35H991.43V321.2ZM991.43 321.2V320.69H993.18V321.2ZM993.18 321.2V320.84H994.94V321.2ZM994.94 321.2V320.87H996.69V321.2ZM996.69 321.2V320.94H998.45V321.2ZM998.45 321.2V321.05H1000.2V321.2ZM1000.2 321.2V321.12H1001.96V321.2ZM1001.96 321.2V321.12H1003.71V321.2ZM1003.71 321.2V321.15H1005.47V321.2ZM1005.47 321.2V321.17H1007.22V321.2ZM1007.22 321.2V321.17H1008.98V321.2ZM1008.98 321.2V321.12H1010.73V321.2ZM1012.49 321.2V321.17H1014.24V321.2Z" fill="#0000ff" fill-opacity="0.3" stroke="none"/>
<path d="M806.7 321.65V320.72H807.6V321.65ZM806.7 320.72H809.36V321.62H806.7ZM808.46 321.65V320.72H809.36V321.65ZM808.46 320.72H811.11V321.62H808.46ZM810.21 321.65V320.7H811.11V321.65ZM810.21 320.7H812.87V321.6H810.21ZM811.97 321.65V320.65H812.87V321.65ZM811.97 320.65H814.62V321.55H811.97ZM813.72 321.65V320.65H814.62V321.65ZM813.72 320.7H816.38V321.6H813.72ZM815.48 321.65V320.6H816.38V321.65ZM815.48 320.6H818.13V321.5H815.48ZM817.23 321.65V320.52H818.13V321.65ZM817.23 320.52H819.89V321.42H817.23ZM818.99 321.65V320.13H819.89V321.65ZM818.99 320.13H821.64V321.03H818.99ZM820.74 321.65V320.13H821.64V321.65ZM820.74 320.37H823.4V321.27H820.74ZM822.5 321.65V320.01H823.4V321.65ZM822.5 320.01H825.15V320.91H822.5ZM824.25 321.65V319.75H825.15V321.65ZM824.25 319.75H826.91V320.65H824.25ZM826.01 321.65V319.65H826.91V321.65ZM826.01 319.65H828.66V320.55H826.01ZM827.76 321.65V319.03H828.66V321.65ZM827.76 319.03H830.42V319.93H827.76ZM829.52 321.65V318.67H830.42V321.65ZM829.52 318.67H832.17V319.57H829.52ZM831.27 321.65V318.62H832.17V321.65ZM831.27 318.62H833.93V319.52H831.27ZM833.03 321.65V317.96H833.93V321.65ZM833.03 317.96H835.68V318.86H833.03ZM834.78 321.65V317.06H835.68V321.65ZM834.78 317.06H837.44V317.96H834.78ZM836.54 321.65V315.75H837.44V321.65ZM836.54 315.75H839.19V316.65H836.54ZM838.29 321.65V314.55H839.19V321.65ZM838.29 314.55H840.95V315.45H838.29ZM840.05 321.65V314.21H840.95V321.65ZM840.05 314.21H842.7V315.11H840.05ZM841.8 321.65V311.98H842.7V321.65ZM841.8 311.98H844.46V312.88H841.8ZM843.56 321.65V310.68H844.46V321.65ZM843.56 310.68H846.21V311.58H843.56ZM845.31 321.65V309.19H846.21V321.65ZM845.31 309.19H847.97V310.09H845.31ZM847.07 321.65V307.04H847.97V321.65ZM847.07 307.04H849.72V307.94H847.07ZM848.82 321.65V303.42H849.72V321.65ZM848.82 303.42H851.48V304.32H848.82ZM850.58 321.65V300.94H851.48V321.65ZM850.58 300.94H853.23V301.84H850.58ZM852.33 321.65V297.63H853.23V321.65ZM852.33 297.63H854.99V298.53H852.33ZM854.09 321.65V293.27H854.99V321.65ZM854.09 293.27H856.74V294.17H854.09ZM855.84 321.65V289.5H856.74V321.65ZM855.84 289.5H858.5V290.4H855.84ZM857.6 321.65V284.07H858.5V321.65ZM857.6 284.07H860.25V284.97H857.6ZM859.35 321.65V280.48H860.25V321.65ZM859.35 280.48H862.01V281.38H859.35ZM861.11 321.65V273.76H862.01V321.65ZM861.11 273.76H863.76V274.66H861.11ZM862.86 321.65V269.02H863.76V321.65ZM862.86 269.02H865.52V269.92H862.86ZM864.62 321.65V261.67H865.52V321.65ZM864.62 261.67H867.27V262.57H864.62ZM866.37 321.65V256.1H867.27V321.65ZM866.37 256.1H869.03V257H866.37ZM868.13 321.65V246.75H869.03V321.65ZM868.13 246.75H870.78V247.65H868.13ZM869.88 321.65V242.08H870.78V321.65ZM869.88 242.08H872.54V242.98H869.88ZM871.64 321.65V233.83H872.54V321.65ZM871.64 233.83H874.29V234.73H871.64ZM873.39 321.65V226.75H874.29V321.65ZM873.39 226.75H876.05V227.65H873.39ZM875.15 321.65V212.88H876.05V321.65ZM875.15 212.88H877.8V213.78H875.15ZM876.9 321.65V204.99H877.8V321.65ZM876.9 204.99H879.56V205.89H876.9ZM878.66 321.65V197.48H879.56V321.65ZM878.66 197.48H881.31V198.38H878.66ZM880.41 321.65V187.89H881.31V321.65ZM880.41 187.89H883.07V188.79H880.41ZM882.17 321.65V181.41H883.07V321.65ZM882.17 181.41H884.82V182.31H882.17ZM883.92 321.65V171.38H884.82V321.65ZM883.92 171.38H886.58V172.28H883.92ZM885.68 321.65V164.67H886.58V321.65ZM885.68 164.67H888.33V165.57H885.68ZM887.43 321.65V157.36H888.33V321.65ZM887.43 157.36H890.09V158.26H887.43ZM889.19 321.65V151.21H890.09V321.65ZM889.19 151.21H891.84V152.11H889.19ZM890.94 321.65V146.24H891.84V321.65ZM890.94 146.24H893.6V147.14H890.94ZM892.7 321.65V137.93H893.6V321.65ZM892.7 137.93H895.35V138.83H892.7ZM894.45 321.65V129.91H895.35V321.65ZM894.45 129.91H897.11V130.81H894.45ZM896.21 321.65V129.91H897.11V321.65ZM896.21 130.78H898.86V131.68H896.21ZM897.96 321.65V118.61H898.86V321.65ZM897.96 118.61H900.62V119.51H897.96ZM899.72 321.65V117.12H900.62V321.65ZM899.72 117.12H902.37V118.02H899.72ZM901.47 321.65V110.76H902.37V321.65ZM901.47 110.76H904.13V111.66H901.47ZM903.23 321.65V110.76H904.13V321.65ZM903.23 112.86H905.88V113.76H903.23ZM904.98 321.65V109.92H905.88V321.65ZM904.98 109.92H907.64V110.82H904.98ZM906.74 321.65V109.92H907.64V321.65ZM906.74 113.04H909.39V113.94H906.74ZM908.49 321.65V111.97H909.39V321.65ZM908.49 111.97H911.15V112.87H908.49ZM910.25 321.65V111.97H911.15V321.65ZM910.25 116.99H912.9V117.89H910.25ZM912 321.65V115.71H912.9V321.65ZM912 115.71H914.66V116.61H912ZM913.76 321.65V115.71H914.66V321.65ZM913.76 121.63H916.41V122.53H913.76ZM915.51 321.65V121.63H916.41V321.65ZM915.51 123.81H918.17V124.71H915.51ZM917.27 321.65V123.81H918.17V321.65ZM917.27 131.99H919.92V132.89H917.27ZM919.02 321.65V131.99H919.92V321.65ZM919.02 135.19H921.68V136.09H919.02ZM920.78 321.65V135.19H921.68V321.65ZM920.78 143.78H923.43V144.68H920.78ZM922.53 321.65V143.78H923.43V321.65ZM922.53 149.96H925.19V150.86H922.53ZM924.29 321.65V149.96H925.19V321.65ZM924.29 157.65H926.94V158.55H924.29ZM926.04 321.65V157.65H926.94V321.65ZM926.04 163.69H928.7V164.59H926.04ZM927.8 321.65V163.69H928.7V321.65ZM927.8 175.41H930.45V176.31H927.8ZM929.55 321.65V175.41H930.45V321.65ZM929.55 183.71H932.21V184.61H929.55ZM931.31 321.65V183.71H932.21V321.65ZM931.31 189.17H933.96V190.07H931.31ZM933.06 321.65V189.17H933.96V321.65ZM933.06 199.4H935.72V200.3H933.06ZM934.82 321.65V199.4H935.72V321.65ZM934.82 209.94H937.47V210.84H934.82ZM936.57 321.65V209.94H937.47V321.65ZM936.57 219.37H939.23V220.27H936.57ZM938.33 321.65V219.37H939.23V321.65ZM938.33 225.57H940.98V226.47H938.33ZM940.08 321.65V225.57H940.98V321.65ZM940.08 234.52H942.74V235.42H940.08ZM941.84 321.65V234.52H942.74V321.65ZM941.84 242.06H944.49V242.96H941.84ZM943.59 321.65V242.06H944.49V321.65ZM943.59 246.67H946.25V247.57H943.59ZM945.35 321.65V246.67H946.25V321.65ZM945.35 258.36H948V259.26H945.35ZM947.1 321.65V258.36H948V321.65ZM947.1 263.64H949.76V264.54H947.1ZM948.86 321.65V263.64H949.76V321.65ZM948.86 268.15H951.51V269.05H948.86ZM950.61 321.65V268.15H951.51V321.65ZM950.61 274.58H953.27V275.48H950.61ZM952.37 321.65V274.58H953.27V321.65ZM952.37 279.76H955.02V280.66H952.37ZM954.12 321.65V279.76H955.02V321.65ZM954.12 286.45H956.78V287.35H954.12ZM955.88 321.65V286.45H956.78V321.65ZM955.88 290.78H958.53V291.68H955.88ZM957.63 321.65V290.78H958.53V321.65ZM957.63 294.55H960.29V295.45H957.63ZM959.39 321.65V294.55H960.29V321.65ZM959.39 299.42H962.04V300.32H959.39ZM961.14 321.65V299.42H962.04V321.65ZM961.14 301.09H963.8V301.99H961.14ZM962.9 321.65V301.09H963.8V321.65ZM962.9 304.83H965.55V305.73H962.9ZM964.65 321.65V304.83H965.55V321.65ZM964.65 306.42H967.31V307.32H964.65ZM966.41 321.65V306.42H967.31V321.65ZM966.41 308.7H969.06V309.6H966.41ZM968.16 321.65V308.7H969.06V321.65ZM968.16 310.8H970.82V311.7H968.16ZM969.92 321.65V310.8H970.82V321.65ZM969.92 312.62H972.57V313.52H969.92ZM971.67 321.65V312.62H972.57V321.65ZM971.67 314.67H974.33V315.57H971.67ZM973.43 321.65V314.67H974.33V321.65ZM973.43 314.73H976.08V315.63H973.43ZM975.18 321.65V314.73H976.08V321.65ZM975.18 316.49H977.84V317.39H975.18ZM976.94 321.65V316.49H977.84V321.65ZM976.94 316.57H979.59V317.47H976.94ZM978.69 321.65V316.57H979.59V321.65ZM978.69 317.83H981.35V318.73H978.69ZM980.45 321.65V317.83H981.35V321.65ZM980.45 318.62H983.1V319.52H980.45ZM982.2 321.65V318.62H983.1V321.65ZM982.2 319.37H984.86V320.27H982.2ZM983.96 321.65V319.29H984.86V321.65ZM983.96 319.29H986.61V320.19H983.96ZM985.71 321.65V319.29H986.61V321.65ZM985.71 320.01H988.37V320.91H985.71ZM987.47 321.65V319.9H988.37V321.65ZM987.47 319.9H990.12V320.8H987.47ZM989.22 321.65V319.9H990.12V321.65ZM989.22 319.9H991.88V320.8H989.22ZM990.98 321.65V319.9H991.88V321.65ZM990.98 320.24H993.63V321.14H990.98ZM992.73 321.65V320.24H993.63V321.65ZM992.73 320.39H995.39V321.29H992.73ZM994.49 321.65V320.39H995.39V321.65ZM994.49 320.42H997.14V321.32H994.49ZM996.24 321.65V320.42H997.14V321.65ZM996.24 320.49H998.9V321.39H996.24ZM998 321.65V320.49H998.9V321.65ZM998 320.6H1000.65V321.5H998ZM999.75 321.65V320.6H1000.65V321.65ZM999.75 320.67H1002.41V321.57H999.75ZM1001.51 321.65V320.67H1002.41V321.65ZM1001.51 320.67H1004.16V321.57H1001.51ZM1003.26 321.65V320.67H1004.16V321.65ZM1003.26 320.7H1005.92V321.6H1003.26ZM1005.02 321.65V320.7H1005.92V321.65ZM1005.02 320.72H1007.67V321.62H1005.02ZM1006.77 321.65V320.72H1007.67V321.65ZM1006.77 320.72H1009.43V321.62H1006.77ZM1008.53 321.65V320.67H1009.43V321.65ZM1008.53 320.67H1011.18V321.57H1008.53ZM1012.04 321.65V320.67H1012.94V321.65ZM1012.04 320.72H1014.69V321.62H1012.04ZM1013.79 321.65V320.72H1014.69V321.65ZM806.7 320.75H1014.69V321.65H806.7Z" fill="#0000ff" fill-opacity="0.66" fill-rule="nonzero" stroke="none"/>
<polyline points="754.5,321.2 755.38,321.2 756.26,321.2 757.13,321.2 758.01,321.2 758.89,321.2 759.76,321.2 760.64,321.2 761.52,321.2 762.4,321.2 763.27,321.2 764.15,321.2 765.03,321.2 765.91,321.2 766.79,321.2 767.66,321.2 768.54,321.2 769.42,321.2 770.29,321.2 771.17,321.2 772.05,321.2 772.93,321.2 773.81,321.2 774.68,321.2 775.56,321.2 776.44,321.2 777.31,321.2 778.19,321.2 779.07,321.2 779.95,321.2 780.83,321.2 781.7,321.2 782.58,321.2 783.46,321.2 784.34,321.2 785.21,321.2 786.09,321.2 786.97,321.2 787.84,321.2 788.72,321.2 789.6,321.2 790.48,321.19 791.36,321.19 792.23,321.19 793.11,321.19 793.99,321.19 794.86,321.19 795.74,321.19 796.62,321.18 797.5,321.18 798.38,321.18 799.25,321.18 800.13,321.17 801.01,321.17 801.89,321.16 802.76,321.16 803.64,321.15 804.52,321.14 805.39,321.13 806.27,321.12 807.15,321.11 808.03,321.1 808.91,321.09 809.78,321.07 810.66,321.05 811.54,321.03 812.41,321.01 813.29,320.98 814.17,320.95 815.05,320.92 815.92,320.88 816.8,320.84 817.68,320.79 818.56,320.73 819.44,320.67 820.31,320.61 821.19,320.53 822.07,320.45 822.94,320.36 823.82,320.25 824.7,320.14 825.58,320.01 826.46,319.87 827.33,319.72 828.21,319.55 829.09,319.36 829.96,319.16 830.84,318.93 831.72,318.68 832.6,318.41 833.48,318.11 834.35,317.78 835.23,317.43 836.11,317.04 836.99,316.62 837.86,316.16 838.74,315.66 839.62,315.11 840.49,314.53 841.37,313.89 842.25,313.21 843.13,312.47 844.01,311.68 844.88,310.82 845.76,309.9 846.64,308.92 847.51,307.86 848.39,306.74 849.27,305.53 850.15,304.25 851.02,302.88 851.9,301.43 852.78,299.89 853.66,298.25 854.54,296.52 855.41,294.7 856.29,292.77 857.17,290.73 858.04,288.59 858.92,286.34 859.8,283.99 860.68,281.52 861.56,278.93 862.43,276.24 863.31,273.43 864.19,270.5 865.06,267.46 865.94,264.31 866.82,261.04 867.7,257.66 868.58,254.18 869.45,250.58 870.33,246.89 871.21,243.1 872.09,239.21 872.96,235.23 873.84,231.17 874.72,227.03 875.59,222.81 876.47,218.53 877.35,214.2 878.23,209.82 879.11,205.39 879.98,200.94 880.86,196.47 881.74,191.98 882.61,187.5 883.49,183.02 884.37,178.57 885.25,174.15 886.12,169.78 887,165.47 887.88,161.22 888.76,157.06 889.64,153 890.51,149.04 891.39,145.19 892.27,141.49 893.14,137.92 894.02,134.51 894.9,131.26 895.78,128.19 896.66,125.31 897.53,122.62 898.41,120.14 899.29,117.87 900.16,115.83 901.04,114.01 901.92,112.43 902.8,111.09 903.67,110 904.55,109.16 905.43,108.57 906.31,108.24 907.19,108.16 908.06,108.34 908.94,108.77 909.82,109.46 910.69,110.41 911.57,111.6 912.45,113.03 913.33,114.71 914.21,116.62 915.08,118.75 915.96,121.1 916.84,123.67 917.71,126.44 918.59,129.4 919.47,132.54 920.35,135.85 921.23,139.33 922.1,142.95 922.98,146.72 923.86,150.61 924.74,154.61 925.61,158.72 926.49,162.91 927.37,167.19 928.24,171.52 929.12,175.92 930,180.35 930.88,184.81 931.76,189.29 932.63,193.78 933.51,198.26 934.39,202.72 935.26,207.17 936.14,211.58 937.02,215.94 937.9,220.25 938.77,224.51 939.65,228.69 940.53,232.8 941.41,236.83 942.29,240.77 943.16,244.63 944.04,248.38 944.92,252.03 945.79,255.58 946.67,259.03 947.55,262.36 948.43,265.58 949.31,268.69 950.18,271.68 951.06,274.56 951.94,277.33 952.81,279.98 953.69,282.52 954.57,284.94 955.45,287.26 956.33,289.46 957.2,291.56 958.08,293.55 958.96,295.44 959.84,297.23 960.71,298.92 961.59,300.52 962.47,302.02 963.34,303.44 964.22,304.77 965.1,306.02 965.98,307.2 966.86,308.29 967.73,309.32 968.61,310.28 969.49,311.17 970.36,312 971.24,312.77 972.12,313.49 973,314.15 973.88,314.77 974.75,315.34 975.63,315.86 976.51,316.34 977.39,316.79 978.26,317.2 979.14,317.57 980.02,317.92 980.89,318.23 981.77,318.52 982.65,318.78 983.53,319.02 984.41,319.24 985.28,319.44 986.16,319.62 987.04,319.78 987.91,319.93 988.79,320.07 989.67,320.19 990.55,320.3 991.42,320.4 992.3,320.48 993.18,320.56 994.06,320.63 994.94,320.7 995.81,320.76 996.69,320.81 997.57,320.85 998.44,320.89 999.32,320.93 1000.2,320.96 1001.08,320.99 1001.96,321.02 1002.83,321.04 1003.71,321.06 1004.59,321.08 1005.46,321.09 1006.34,321.11 1007.22,321.12 1008.1,321.13 1008.98,321.14 1009.85,321.15 1010.73,321.15 1011.61,321.16 1012.49,321.16 1013.36,321.17 1014.24,321.17 1015.12,321.18 1015.99,321.18 1016.87,321.18 1017.75,321.19 1018.63,321.19 1019.51,321.19 1020.38,321.19 1021.26,321.19 1022.14,321.19 1023.01,321.19 1023.89,321.2 1024.77,321.2 1025.65,321.2 1026.53,321.2 1027.4,321.2 1028.28,321.2 1029.16,321.2 1030.04,321.2 1030.91,321.2 1031.79,321.2 1032.67,321.2 1033.54,321.2 1034.42,321.2 1035.3,321.2" fill="none" stroke="#ff0000" stroke-width="1.65" stroke-linejoin="round"/>
</g>
<text transform="translate(736.1 327.7) scale(1.05 1)" font-size="19" textLength="9.14" lengthAdjust="spacing">0</text>
<text transform="translate(720.3 250.8) scale(1.05 1)" font-size="19" textLength="24.19" lengthAdjust="spacing">0.1</text>
<text transform="translate(720.3 173.9) scale(1.05 1)" font-size="19" textLength="24.19" lengthAdjust="spacing">0.2</text>
<text transform="translate(720.3 97) scale(1.05 1)" font-size="19" textLength="24.19" lengthAdjust="spacing">0.3</text>
<text transform="translate(720.3 20.1) scale(1.05 1)" font-size="19" textLength="24.19" lengthAdjust="spacing">0.4</text>
<text transform="translate(791.55 356.8) scale(1.05 1)" font-size="19" textLength="28.57" lengthAdjust="spacing">890</text>
<text transform="translate(879.3 356.8) scale(1.05 1)" font-size="19" textLength="28.57" lengthAdjust="spacing">895</text>
<text transform="translate(967.05 356.8) scale(1.05 1)" font-size="19" textLength="28.57" lengthAdjust="spacing">900</text>
<text transform="translate(815.6 385.6) scale(1.07 1)" font-size="20.5" textLength="88.79" lengthAdjust="spacing">Calculated</text>
<text transform="translate(919.2 385.6) scale(1.0 1)" font-size="20.5" textLength="12.5" lengthAdjust="spacing"><tspan font-style="italic">T</tspan></text>
<text transform="translate(930.9 388.8) scale(1.05 1)" font-size="15" textLength="10.48" lengthAdjust="spacing"><tspan font-style="italic">C</tspan></text>
<text transform="translate(945.6 385.6) scale(1.0 1)" font-size="20.5">,</text>
<text transform="translate(958.4 385.6) scale(1.0 1)" font-size="20.5" textLength="15" lengthAdjust="spacing">K</text>
<rect x="773.7" y="29.7" width="35.9" height="11.6" fill="#0000ff" fill-opacity="0.3" stroke="#0000ff" stroke-opacity="0.45" stroke-width="1.2"/>
<path d="M773.6 57.4H809.6" stroke="#ff0000" stroke-width="1.6" fill="none"/>
<text transform="translate(832.1 38.9) scale(1.16 1)" font-size="15" textLength="64.66" lengthAdjust="spacing">Triangular</text>
<text transform="translate(914.2 38.9) scale(1.16 1)" font-size="15" textLength="75.69" lengthAdjust="spacing">Distribution</text>
<g transform="translate(813.9 61.2)" fill="none" stroke="#000" stroke-linecap="round" stroke-linejoin="round"><path d="M0.6 -0.9C1.2 0.1 2.3 0 2.9 -1.6" stroke-width="1.3"/><path d="M2.6 -1.2C3.6 -3.2 4.6 -6.6 5.3 -9.5" stroke-width="0.75"/><path d="M5.4 -9.6C6.8 -6.8 8.6 -3 10.2 -0.2" stroke-width="1.5"/><path d="M10.3 -0.1C11 -3.2 12 -7 13.2 -9.6" stroke-width="0.75"/><path d="M13.2 -9.8C13.8 -10.2 14.8 -10.5 15.8 -10.5" stroke-width="1.2"/></g>
<text transform="translate(831 62.1) scale(0.95 1)" font-size="17">(</text>
<text transform="translate(837.5 61.2) scale(1.5 1)" font-size="12.5" textLength="6" lengthAdjust="spacing"><tspan font-style="italic">μ</tspan></text>
<path d="M852.4 56.5h11.2M852.4 59.65h11.2" stroke="#000" stroke-width="0.85" fill="none"/>
<text transform="translate(869.6 61.2) scale(1.16 1)" font-size="15" textLength="50.52" lengthAdjust="spacing">895.69K</text>
<text transform="translate(930 61.2) scale(1.1 1)" font-size="15">,</text>
<text transform="translate(936.5 61.2) scale(1.6 1)" font-size="12.5" textLength="5.62" lengthAdjust="spacing"><tspan font-style="italic">σ</tspan></text>
<path d="M952.1 56.5h11.2M952.1 59.65h11.2" stroke="#000" stroke-width="0.85" fill="none"/>
<text transform="translate(969.3 61.2) scale(1.16 1)" font-size="15" textLength="35.52" lengthAdjust="spacing">1.44K</text>
<text transform="translate(1011.9 62.1) scale(0.95 1)" font-size="17">)</text>
</g>
<g transform="translate(21 261) rotate(-90)"><text transform="translate(0 0) scale(1.05 1)" font-size="20.5" textLength="70" lengthAdjust="spacing">Relative</text><text transform="translate(80.6 0) scale(1.05 1)" font-size="20.5" textLength="88.19" lengthAdjust="spacing">Frequency</text></g>
</svg></body></html>
